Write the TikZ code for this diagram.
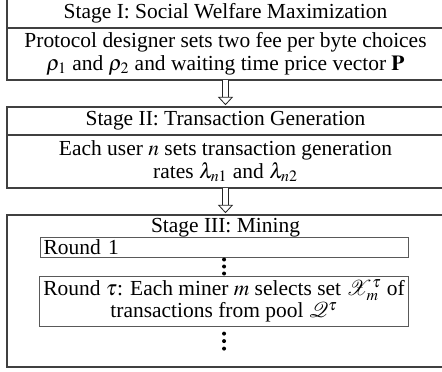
\documentclass[tikz,border=0pt]{standalone}
\usepackage{mathptmx}
\usepackage[no-math]{fontspec}
\setmainfont{Liberation Serif}
\usetikzlibrary{positioning,calc,arrows.meta}

\begin{document}
\begin{tikzpicture}[
        x=0.55pt, y=-0.55pt,
        node distance=14.85pt,
        font=\fontsize{11.8pt}{12.4pt}\selectfont,
        stage/.style={rectangle, draw=black!75, line width=0.8pt, minimum width=240.4pt, inner sep=0pt, outer sep=0pt, align=center},
        roundbox/.style={rectangle, draw=black!65, line width=0.55pt, inner xsep=2pt, inner ysep=0pt, outer sep=0pt, minimum width=202.4pt},
        dot/.style={fill=black},
        flow/.style={draw=black!85, line width=0.45pt, double, double distance=2.9pt, shorten >=1pt, -{Triangle[open, length=4.6pt, width=8.4pt]}}
    ]
    \useasboundingbox (0,0) rectangle (442,371);

    % Stages
    \node[stage, minimum height=15.95pt, anchor=north] (head1) at (225.5,-1) {Stage I: Social Welfare Maximization};
    \node[stage, minimum height=28.6pt, below=0pt of head1] (body1) {Protocol designer sets two fee per byte choices\\ $\rho_1$ and $\rho_2$ and waiting time price vector $\mathbf{P}$};
    \node[stage, minimum height=15.4pt, below=of body1] (head2) {Stage II: Transaction Generation};
    \node[stage, minimum height=29.15pt, below=0pt of head2] (body2) {Each user $n$ sets transaction generation\\ rates $\lambda_{n1}$ and $\lambda_{n2}$};
    \node[stage, minimum height=83.6pt, below=of body2] (mining) {};
    \node[below=1.5pt of mining.north, inner sep=0pt] (head3) {Stage III: Mining};

    % Rounds
    \node[roundbox, minimum height=11pt, text width=198.4pt, align=left, below=12.1pt of mining.north, xshift=-0.8pt] (round1) {Round 1};
    \node[roundbox, minimum height=27.5pt, align=center, below=10.45pt of round1] (roundt) {Round $\tau$: Each miner $m$ selects set $\mathcal{X}_m^{\tau}$ of\\ transactions from pool $\mathcal{Q}^{\tau}$};
    \coordinate (dots1) at ($(round1.south)!0.5!(roundt.north)$);
    \coordinate[below=8.3pt of roundt.south] (dots2);
    \foreach \k in {-1,0,1} {
        \fill[dot] ($(dots1)+(0,\k*7)$) circle (1.1pt);
        \fill[dot] ($(dots2)+(0,\k*7.5)$) circle (1.1pt);
    }

    % Flow
    \draw[flow] (body1) -- (head2);
    \draw[flow] (body2) -- (mining);
\end{tikzpicture}
\end{document}
